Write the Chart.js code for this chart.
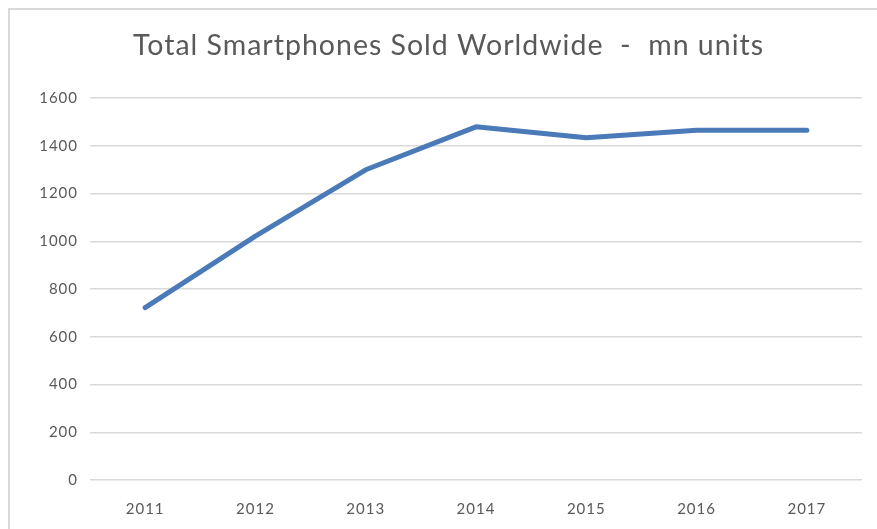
<!DOCTYPE html>
<html>
<head>
<meta charset="utf-8">
<script src="https://cdn.jsdelivr.net/npm/chart.js@4"></script>
<style>
    html, body { margin: 0; padding: 0; background: #fff; }
    #wrap { position: relative; width: 877px; height: 529px; }
    #frame {
        position: absolute; left: 8px; top: 8px; right: 0; bottom: 0;
        border-left: 2px solid #d9d9d9; border-top: 2px solid #d9d9d9;
        pointer-events: none;
    }
    canvas { position: absolute; left: 0; top: 0; }
</style>
</head>
<body>
<div id="wrap">
    <canvas id="salesChart" width="877" height="529"></canvas>
    <div id="frame"></div>
</div>
<script>
// chart data
const years = ['2011', '2012', '2013', '2014', '2015', '2016', '2017'];
const unitsSold = [722, 1022, 1300, 1480, 1434, 1466, 1466];
const yTicks = [0, 200, 400, 600, 800, 1000, 1200, 1400, 1600];
const chartTitle = 'Total Smartphones Sold Worldwide  -  mn units';

const textGray = '#595959';
const fontFamily = 'Lato, "Open Sans", sans-serif';

// the excel fonts look a bit spaced out
const spacingPlugin = {
    id: 'spacing',
    beforeDraw(chart) {
        chart.ctx.letterSpacing = '1px';
    }
};

function renderChart() {
    const ctx = document.getElementById('salesChart').getContext('2d');
    return new Chart(ctx, {
        type: 'line',
        data: {
            labels: years,
            datasets: [{
                label: 'Smartphones sold',
                data: unitsSold,
                borderColor: '#4a7ab7',
                borderWidth: 5,
                borderCapStyle: 'round',
                borderJoinStyle: 'round',
                pointRadius: 0,
                fill: false,
                tension: 0
            }]
        },
        plugins: [spacingPlugin],
        options: {
            responsive: false,
            animation: false,
            layout: { padding: { top: 8, right: 0, bottom: 0, left: 20 } },
            plugins: {
                legend: { display: false },
                tooltip: { enabled: false },
                title: {
                    display: true,
                    text: chartTitle,
                    color: textGray,
                    font: { family: fontFamily, size: 28.5, weight: 'normal' },
                    padding: { top: 21, bottom: 35 }
                }
            },
            scales: {
                x: {
                    offset: true,
                    grid: { display: false, drawTicks: false },
                    border: { display: false },
                    ticks: {
                        color: textGray,
                        font: { family: fontFamily, size: 15 },
                        padding: 20
                    },
                    afterFit: scale => { scale.height = 49; }
                },
                y: {
                    min: yTicks[0],
                    max: yTicks[yTicks.length - 1],
                    grid: { color: '#d9d9d9', lineWidth: 1.5, drawTicks: false },
                    border: { display: false },
                    afterBuildTicks: scale => {
                        scale.ticks = yTicks.map(v => ({ value: v }));
                    },
                    ticks: {
                        color: textGray,
                        font: { family: fontFamily, size: 15 },
                        padding: 12,
                        callback: value => String(value)
                    },
                    afterFit: scale => { scale.width = 70; }
                },
                // empty strip on the right so the gridlines stop short of the edge
                yRight: {
                    position: 'right',
                    grid: { display: false },
                    border: { display: false },
                    ticks: { display: false },
                    afterFit: scale => { scale.width = 15; }
                }
            }
        }
    });
}

renderChart();
</script>
</body>
</html>
